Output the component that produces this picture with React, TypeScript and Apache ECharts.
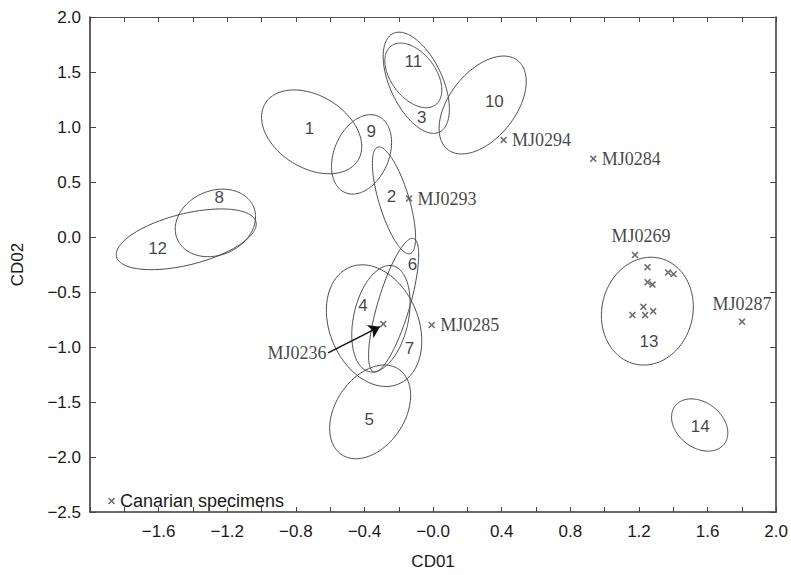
import React, { useEffect, useRef } from "react";
import * as echarts from "echarts";

// ---- axis ticks ----
const X_TICKS = [-1.6, -1.2, -0.8, -0.4, 0, 0.4, 0.8, 1.2, 1.6, 2.0];
const X_TICK_LABELS = ["−1.6", "−1.2", "−0.8", "−0.4", "−0.0", "0.4", "0.8", "1.2", "1.6", "2.0"];
const Y_TICKS = [-2.5, -2, -1.5, -1, -0.5, 0, 0.5, 1, 1.5, 2];
const Y_TICK_LABELS = ["−2.5", "−2.0", "−1.5", "−1.0", "−0.5", "0.0", "0.5", "1.0", "1.5", "2.0"];

// ---- group confidence ellipses (centre, half-width, half-height, correlation) ----
const GROUPS = ["1", "2", "3", "4", "5", "6", "7", "8", "9", "10", "11", "12", "13", "14"];
const ELL_CX = [-0.708, -0.228, -0.098, -0.304, -0.367, -0.23, -0.344, -1.269, -0.417, 0.289, -0.115, -1.439, 1.249, 1.554];
const ELL_CY = [0.956, 0.333, 1.402, -0.743, -1.59, -0.62, -0.806, 0.128, 0.751, 1.2, 1.469, -0.021, -0.674, -1.709];
const ELL_HW = [0.292, 0.126, 0.193, 0.17, 0.236, 0.146, 0.278, 0.234, 0.175, 0.254, 0.166, 0.408, 0.268, 0.164];
const ELL_HH = [0.381, 0.486, 0.46, 0.484, 0.426, 0.608, 0.553, 0.307, 0.361, 0.445, 0.294, 0.276, 0.49, 0.2375];
const ELL_R = [-0.35, -0.69, -0.52, 0.3, 0.35, 0.75, -0.25, 0.18, 0.3, 0.48, -0.45, 0.5, 0.08, -0.3];
const LABEL_X = [-0.72, -0.242, -0.066, -0.408, -0.372, -0.12, -0.138, -1.246, -0.36, 0.357, -0.115, -1.606, 1.259, 1.557];
const LABEL_Y = [0.99, 0.369, 1.086, -0.626, -1.657, -0.253, -1.015, 0.36, 0.96, 1.235, 1.6, -0.1, -0.949, -1.72];

// ---- Canarian specimens ----
const SPEC_NAMES = ["MJ0294", "MJ0284", "MJ0293", "MJ0285", "MJ0236", "MJ0269", "MJ0287", "", "", "", "", "", "", "", "", ""];
const SPEC_X = [0.411, 0.934, -0.14, -0.008, -0.29, 1.177, 1.801, 1.25, 1.37, 1.402, 1.25, 1.279, 1.226, 1.162, 1.236, 1.283];
const SPEC_Y = [0.882, 0.712, 0.35, -0.8, -0.79, -0.163, -0.77, -0.274, -0.322, -0.337, -0.411, -0.432, -0.635, -0.71, -0.71, -0.674];

// arrow pointing to MJ0236 (tail, head)
const ARROW_FROM = [-0.612, -1.054];
const ARROW_TO = [-0.31, -0.815];

const CROSS = "path://M0,1.6L1.6,0L5,3.4L8.4,0L10,1.6L6.6,5L10,8.4L8.4,10L5,6.6L1.6,10L0,8.4L3.4,5Z";
const SANS = "'Liberation Sans', Arial, Helvetica, sans-serif";
const SERIF = "'Liberation Serif', 'Times New Roman', serif";

function findLabel(v: number, ticks: number[], labels: string[]) {
  for (let i = 0; i < ticks.length; i++) if (Math.abs(ticks[i] - v) < 1e-6) return labels[i];
  return "";
}

export default function App() {
  const ref = useRef<HTMLDivElement>(null);
  useEffect(() => {
    if (!ref.current) return;
    const chart = echarts.init(ref.current, undefined, { renderer: "svg" });

    const ellipseData = GROUPS.map((g, i) => ({
      name: g,
      value: [ELL_CX[i], ELL_CY[i], ELL_HW[i], ELL_HH[i], ELL_R[i]],
    }));

    const specData = SPEC_NAMES.map((n, i) => {
      const item: any = { name: n, value: [SPEC_X[i], SPEC_Y[i]] };
      if (n === "MJ0269") item.label = { show: true, position: "top", distance: 6, offset: [6, 0] };
      else if (n === "MJ0287") item.label = { show: true, position: "top", distance: 5 };
      else if (n === "MJ0236" || n === "") item.label = { show: false };
      else item.label = { show: true, position: "right", distance: 5 };
      return item;
    });

    const axisLine = { show: true, onZero: false, lineStyle: { color: "#3a3a3a", width: 1.6 } };
    const hidden = { color: "rgba(0,0,0,0)" };

    chart.setOption({
      animation: false,
      backgroundColor: "#fff",
      grid: { left: 90, right: 14, top: 17, bottom: 56, containLabel: false },
      legend: {
        show: true,
        left: 103,
        top: 487,
        data: [{ name: "Canarian specimens", icon: CROSS }],
        itemWidth: 7,
        itemHeight: 7,
        textStyle: { fontFamily: SANS, fontSize: 18, color: "#1a1a1a" },
        selectedMode: false,
      },
      xAxis: [
        {
          type: "value",
          min: -2,
          max: 2,
          interval: 0.2,
          position: "bottom",
          name: "CD01",
          nameLocation: "middle",
          nameGap: 41,
          nameTextStyle: { fontFamily: SANS, fontSize: 17, color: "#1a1a1a" },
          axisLine,
          axisTick: { show: true, inside: true, length: 5, lineStyle: { color: "#444" } },
          axisLabel: {
            fontFamily: SANS,
            fontSize: 17,
            color: "#1a1a1a",
            margin: 11,
            formatter: (v: number) => findLabel(v, X_TICKS, X_TICK_LABELS),
          },
          splitLine: { show: false },
        },
        {
          type: "value",
          min: -2,
          max: 2,
          interval: 0.2,
          position: "top",
          axisLine: { show: true, onZero: false, lineStyle: { color: "#555", width: 1.2 } },
          axisTick: { show: true, inside: true, length: 5, lineStyle: { color: "#444" } },
          axisLabel: { show: false },
          splitLine: { show: false },
        },
      ],
      yAxis: [
        {
          type: "value",
          min: -2.5,
          max: 2,
          interval: 0.5,
          position: "left",
          name: "CD02",
          nameLocation: "middle",
          nameGap: 64,
          nameRotate: 90,
          nameTextStyle: { fontFamily: SANS, fontSize: 17, color: "#1a1a1a" },
          axisLine,
          axisTick: { show: true, inside: true, length: 6, lineStyle: { color: "#444" } },
          axisLabel: {
            fontFamily: SANS,
            fontSize: 17,
            color: "#1a1a1a",
            margin: 9,
            formatter: (v: number) => findLabel(v, Y_TICKS, Y_TICK_LABELS),
          },
          splitLine: { show: false },
        },
        {
          type: "value",
          min: -2.5,
          max: 2,
          interval: 0.5,
          position: "right",
          axisLine: { show: true, onZero: false, lineStyle: { color: "#444", width: 1.6 } },
          axisTick: { show: true, inside: true, length: 6, lineStyle: { color: "#444" } },
          axisLabel: { show: false },
          splitLine: { show: false },
        },
      ],
      series: [
        {
          type: "custom",
          name: "groups",
          xAxisIndex: 0,
          yAxisIndex: 0,
          silent: true,
          dimensions: ["x", "y", "hw", "hh", "r"],
          encode: { x: 0, y: 1 },
          data: ellipseData,
          renderItem: (params: any, api: any) => {
            const cx = api.value(0);
            const cy = api.value(1);
            const a = api.value(2);
            const b = api.value(3);
            const d = Math.acos(api.value(4));
            const pts: number[][] = [];
            const n = 160;
            for (let k = 0; k < n; k++) {
              const t = (k / n) * Math.PI * 2;
              pts.push(api.coord([cx + a * Math.cos(t), cy + b * Math.cos(t - d)]));
            }
            return {
              type: "polygon",
              shape: { points: pts },
              style: { fill: "none", stroke: "#4a4a4a", lineWidth: 1 },
            };
          },
        },
        {
          type: "scatter",
          name: "group labels",
          silent: true,
          symbol: "circle",
          symbolSize: 1,
          itemStyle: hidden,
          data: GROUPS.map((g, i) => ({ name: g, value: [LABEL_X[i], LABEL_Y[i]] })),
          label: {
            show: true,
            position: "inside",
            formatter: "{b}",
            fontFamily: SANS,
            fontSize: 17,
            color: "#111",
          },
        },
        {
          type: "lines",
          name: "arrow",
          coordinateSystem: "cartesian2d",
          silent: true,
          symbol: ["none", "arrow"],
          symbolSize: [0, 11],
          lineStyle: { color: "#111", width: 1.5, opacity: 1 },
          data: [{ coords: [ARROW_FROM, ARROW_TO] }],
        },
        {
          type: "scatter",
          name: "arrow label",
          silent: true,
          symbol: "circle",
          symbolSize: 1,
          itemStyle: hidden,
          data: [{ name: "MJ0236", value: ARROW_FROM }],
          label: {
            show: true,
            position: "left",
            distance: 1,
            formatter: "{b}",
            fontFamily: SERIF,
            fontSize: 18,
            color: "#111",
          },
        },
        {
          type: "scatter",
          name: "Canarian specimens",
          symbol: CROSS,
          symbolSize: 7,
          itemStyle: { color: "#4a4a4a" },
          data: specData,
          label: {
            formatter: "{b}",
            fontFamily: SERIF,
            fontSize: 18,
            color: "#111",
          },
        },
      ],
    });
    return () => chart.dispose();
  }, []);

  return (
    <div
      ref={ref}
      style={{ position: "absolute", left: 0, top: 0, width: 791, height: 575, background: "#fff" }}
    />
  );
}
